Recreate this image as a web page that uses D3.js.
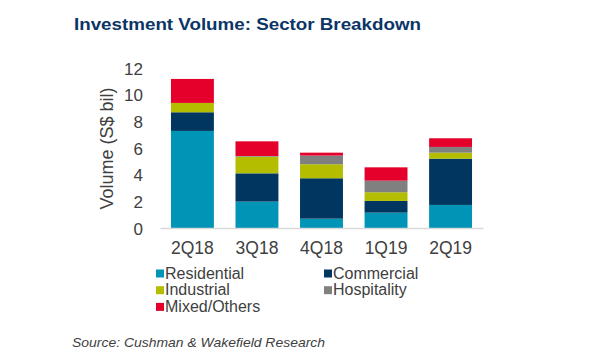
<!DOCTYPE html>
<html><head><meta charset="utf-8">
<script src="https://cdn.jsdelivr.net/npm/d3@7"></script>
<style>body{margin:0;background:#fff}svg{display:block}</style>
</head><body>
<svg id="c" width="600" height="360"></svg>
<script>
const categories = ["2Q18","3Q18","4Q18","1Q19","2Q19"];
const seriesNames = ["Residential","Commercial","Industrial","Hospitality","Mixed/Others"];
const residential = [7.28, 1.98, 0.70, 1.15, 1.73];
const commercial  = [1.40, 2.12, 3.03, 0.88, 3.47];
const industrial  = [0.70, 1.25, 1.05, 0.65, 0.45];
const hospitality = [0.00, 0.05, 0.65, 0.87, 0.43];
const mixed       = [1.80, 1.10, 0.22, 1.00, 0.65];
const yTicks = [0,2,4,6,8,10,12];
const colors = ["#0095B6","#00365F","#B5BD00","#808080","#E4002B"];

const svg = d3.select("#c");
const font = "Arial, 'Liberation Sans', sans-serif";
const keys = ["r","c","i","h","m"];
const table = categories.map((q,i)=>({q, r:residential[i], c:commercial[i], i:industrial[i], h:hospitality[i], m:mixed[i]}));
const stacked = d3.stack().keys(keys)(table);

const x = d3.scaleBand().domain(categories).range([160,483]).paddingInner(0.335).paddingOuter(0.17);
const y = d3.scaleLinear().domain([0,12]).range([228,68]);

svg.append("text").attr("x",74).attr("y",29.5).attr("font-family",font).attr("font-weight","bold")
  .attr("font-size",17).attr("fill","#0B3566")
  .attr("textLength",347).attr("lengthAdjust","spacingAndGlyphs")
  .text("Investment Volume: Sector Breakdown");

svg.append("g").selectAll("g").data(stacked).join("g").attr("fill",(d,i)=>colors[i])
  .selectAll("rect").data(d=>d).join("rect")
  .attr("x",d=>x(d.data.q)).attr("width",x.bandwidth())
  .attr("y",d=>y(d[1])).attr("height",d=>Math.max(0,y(d[0])-y(d[1])));

const xa = svg.append("g").attr("transform","translate(0,228)")
  .call(d3.axisBottom(x).tickSize(0).tickPadding(14));
xa.select(".domain").attr("stroke","#d9d9d9").attr("stroke-width",1.5);
xa.selectAll("text").attr("font-family",font).attr("font-size",17.5).attr("fill","#404040");

const ya = svg.append("g").attr("transform","translate(143,0)")
  .call(d3.axisLeft(y).tickValues(yTicks).tickSize(0).tickPadding(0));
ya.select(".domain").remove();
ya.selectAll("text").attr("font-family",font).attr("font-size",17).attr("fill","#404040").attr("dy","0.36em");

svg.append("text").attr("transform","translate(113,148.5) rotate(-90)").attr("text-anchor","middle")
  .attr("font-family",font).attr("font-size",18).attr("fill","#404040").text("Volume (S$ bil)");

const lg = svg.append("g");
seriesNames.forEach((n,i)=>{
  const col = i%2, row = Math.floor(i/2);
  const lx = 156 + col*168, ly = 273.5 + row*16.7;
  lg.append("rect").attr("x",lx).attr("y",ly-4).attr("width",8).attr("height",8).attr("fill",colors[i]);
  lg.append("text").attr("x",lx+9).attr("y",ly+5).attr("font-family",font).attr("font-size",16)
    .attr("fill","#404040").text(n);
});

svg.append("text").attr("x",72).attr("y",347).attr("font-family",font).attr("font-style","italic")
  .attr("font-size",13).attr("fill","#404040")
  .attr("textLength",253).attr("lengthAdjust","spacingAndGlyphs")
  .text("Source: Cushman & Wakefield Research");
</script>
</body></html>
